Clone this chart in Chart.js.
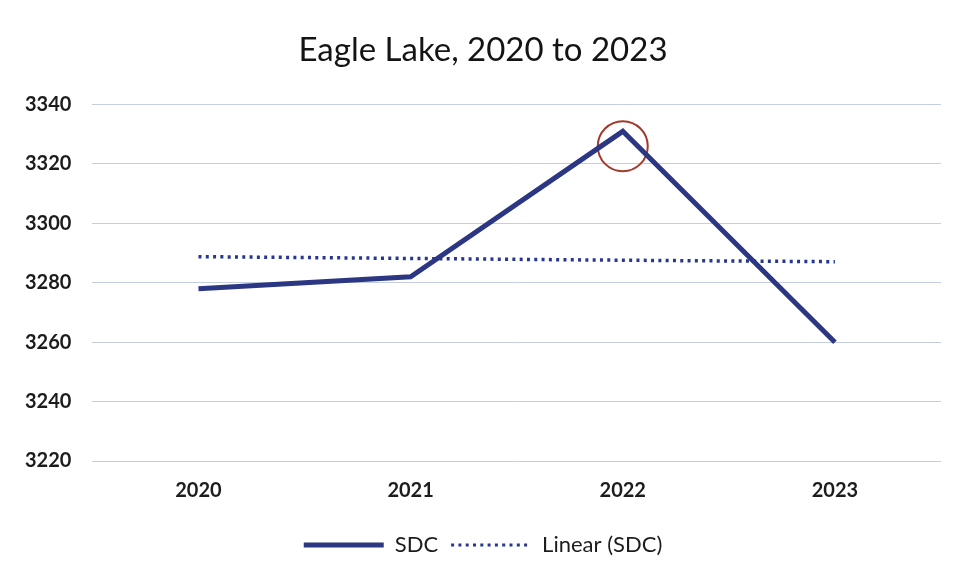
<!DOCTYPE html>
<html>
<head>
<meta charset="utf-8">
<script src="https://cdn.jsdelivr.net/npm/chart.js@4/dist/chart.umd.min.js"></script>
<style>
  body { margin: 0; background: #fff; }
  #wrap { width: 955px; height: 582px; }
</style>
</head>
<body>
<div id="wrap"><canvas id="chart" width="955" height="582"></canvas></div>
<script>
// values
const years = ['2020', '2021', '2022', '2023'];
const sdc = [3278, 3282, 3331, 3260];
const linearSdc = [3288.8, 3288.2, 3287.6, 3287.1];
// the hand-drawn circle sits a little under the 2022 peak
const circled = [null, null, 3326, null];
const yTicks = [3220, 3240, 3260, 3280, 3300, 3320, 3340];

const navy = '#2c3784';
const dotBlue = '#27378f';
const textCol = '#1c1c1c';

const ctx = document.getElementById('chart').getContext('2d');
new Chart(ctx, {
  type: 'line',
  data: {
    labels: years,
    datasets: [
      {
        label: 'SDC',
        data: sdc,
        borderColor: navy,
        backgroundColor: navy,
        borderWidth: 5,
        pointRadius: 0,
        tension: 0,
      },
      {
        label: 'Linear (SDC)',
        data: linearSdc,
        borderColor: dotBlue,
        backgroundColor: dotBlue,
        borderWidth: 3.5,
        borderDash: [3, 4.3],
        pointRadius: 0,
        tension: 0,
      },
      {
        label: 'circle',
        data: circled,
        showLine: false,
        pointRadius: 25,
        pointBorderWidth: 2,
        pointBorderColor: '#a33a2e',
        pointBackgroundColor: 'rgba(0,0,0,0)',
      },
    ],
  },
  options: {
    responsive: false,
    animation: false,
    layout: { autoPadding: false, padding: { top: 8, left: 25, right: 14, bottom: 16 } },
    plugins: {
      title: {
        display: true,
        text: 'Eagle Lake, 2020 to 2023',
        color: '#141414',
        font: { family: 'Lato', size: 33, weight: 'normal' },
        padding: { top: 23, bottom: 34 },
      },
      legend: {
        position: 'bottom',
        labels: {
          usePointStyle: true,
          pointStyleWidth: 80,
          color: textCol,
          font: { family: 'Lato', size: 22 },
          padding: 13,
          // only the two real series, drawn as short lines with their own dash
          generateLabels: (chart) => chart.data.datasets.slice(0, 2).map((ds, i) => ({
            text: ds.label,
            datasetIndex: i,
            hidden: false,
            fontColor: textCol,
            fillStyle: ds.borderColor,
            strokeStyle: ds.borderColor,
            lineWidth: i === 0 ? 5 : 3,
            lineDash: ds.borderDash || [],
            pointStyle: 'line',
          })),
        },
      },
      tooltip: { enabled: false },
    },
    scales: {
      x: {
        offset: true,
        grid: { display: false, drawTicks: false },
        border: { display: false },
        ticks: {
          color: textCol,
          font: { family: 'Lato', size: 20, weight: 'bold' },
          padding: 18,
        },
      },
      y: {
        min: yTicks[0],
        max: yTicks[yTicks.length - 1],
        grid: { color: '#c5cde3', lineWidth: 1, drawTicks: false },
        border: { display: false },
        afterBuildTicks: (axis) => { axis.ticks = yTicks.map((v) => ({ value: v })); },
        ticks: {
          color: textCol,
          font: { family: 'Lato', size: 20, weight: 'bold' },
          padding: 10.5,
          crossAlign: 'far',
          callback: (v) => String(v),
        },
      },
    },
  },
});
</script>
</body>
</html>
